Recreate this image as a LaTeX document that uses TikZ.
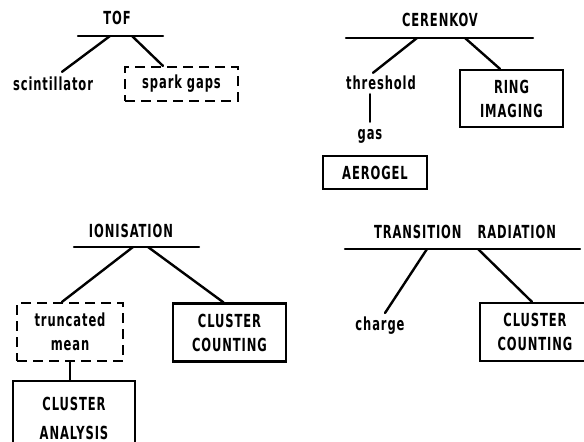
\documentclass[tikz,border=0pt]{standalone}
\usepackage{fontspec}
\newfontfamily\labfont{DejaVu Sans}[FakeStretch=0.64,LetterSpace=5]
\newcommand\lbl{\labfont\bfseries\fontsize{18}{24}\selectfont}
\begin{document}
\begin{tikzpicture}[x=1pt,y=-1pt,line width=2.4pt,line cap=round,
  lab/.style={font=\lbl,inner sep=0pt,align=center},
  sbox/.style={lab,draw,line width=2.2pt,line cap=butt},
  dbox/.style={sbox,dash pattern=on 10pt off 6pt},
  bar/.style={line width=2.4pt}]
\clip (0,0) rectangle (584,442);
% TOF
\node[lab] (tof) at (117,18) {TOF};
\coordinate (tofW) at (78,36); \coordinate (tofE) at (163,36);
\coordinate (tofA) at (110,36); \coordinate (tofB) at (132,36);
\draw[bar] (tofW) -- (tofE);
\node[lab] (scint) at (53,84) {scintillator};
\node[dbox,minimum width=113pt,minimum height=34pt] (spark) at (181.5,84) {spark gaps};
\draw (tofA) -- ([shift={(9,-4)}]scint.north);
\draw (tofB) -- ([xshift=-18.5pt]spark.north);
% CERENKOV
\node[lab] (cer) at (440,20) {CERENKOV};
\coordinate (cerW) at (346,38); \coordinate (cerE) at (533,38);
\coordinate (cerA) at (417,38); \coordinate (cerB) at (465,38);
\draw[bar] (cerW) -- (cerE);
\node[lab] (thr) at (381,83) {threshold};
\node[sbox,minimum width=103pt,minimum height=57pt] (ring) at (511.5,98.5) {RING\\IMAGING};
\draw (cerA) -- ([shift={(-8,-2)}]thr.north);
\draw (cerB) -- ([xshift=-11.5pt]ring.north);
\node[lab] (gas) at (370,136) {gas};
\draw[shorten <=3pt,shorten >=6pt] ([xshift=-11pt]thr.south) -- (gas.north);
\node[sbox,minimum width=104pt,minimum height=33pt] (aero) at (375,172.5) {AEROGEL};
% IONISATION
\node[lab] (ion) at (131,231) {IONISATION};
\coordinate (ionW) at (74,247); \coordinate (ionE) at (199,247);
\coordinate (ionA) at (133,247); \coordinate (ionB) at (148,247);
\draw[bar] (ionW) -- (ionE);
\node[dbox,minimum width=106pt,minimum height=58pt] (trunc) at (70,332) {truncated\\mean};
\node[sbox,minimum width=113pt,minimum height=58pt] (cc1) at (229.5,332.5) {CLUSTER\\COUNTING};
\draw (ionA) -- ([xshift=-8pt]trunc.north);
\draw (ionB) -- ([xshift=-6pt]cc1.north);
\node[sbox,minimum width=122pt,minimum height=74pt] (ana) at (74,418) {CLUSTER\\[5pt]ANALYSIS};
\draw (trunc.south) -- (trunc.south |- ana.north);
% TRANSITION RADIATION
\node[lab] (tr) at (465,232) {TRANSITION\hspace{16pt}RADIATION};
\coordinate (trW) at (345,249); \coordinate (trE) at (580,249);
\coordinate (trA) at (427,249); \coordinate (trB) at (478,249);
\draw[bar] (trW) -- (trE);
\node[lab] (chg) at (380,326) {charge};
\node[sbox,minimum width=110pt,minimum height=58pt] (cc2) at (535,332) {CLUSTER\\COUNTING};
\draw (trA) -- ([shift={(5,-3)}]chg.north);
\draw (trB) -- ([xshift=-3pt]cc2.north);
\end{tikzpicture}
\end{document}
